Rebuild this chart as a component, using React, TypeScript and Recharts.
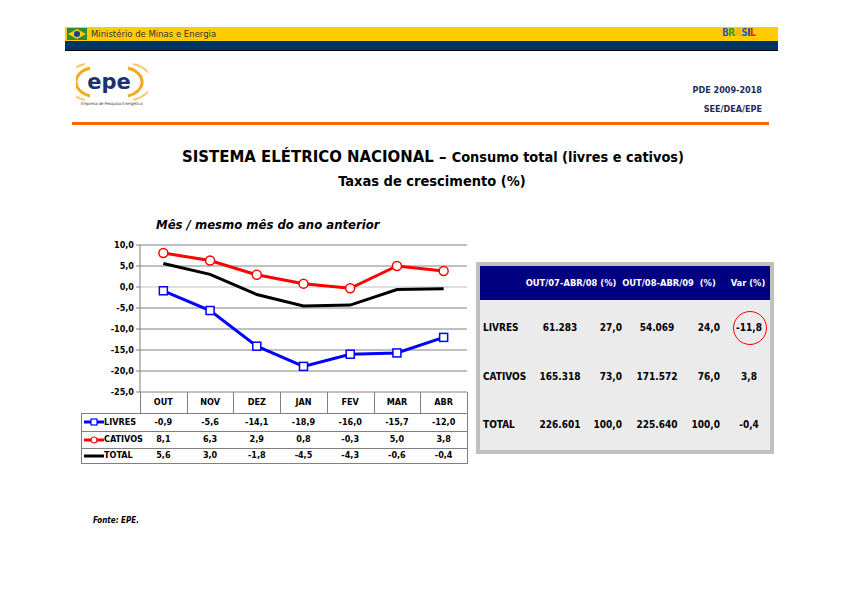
import React from 'react';
import { LineChart, Line, XAxis, YAxis, ReferenceLine } from 'recharts';

const months = ['OUT', 'NOV', 'DEZ', 'JAN', 'FEV', 'MAR', 'ABR'];
const livres = [-0.9, -5.6, -14.1, -18.9, -16.0, -15.7, -12.0];
const cativos = [8.1, 6.3, 2.9, 0.8, -0.3, 5.0, 3.8];
const total = [5.6, 3.0, -1.8, -4.5, -4.3, -0.6, -0.4];
const yTicks = [-25, -20, -15, -10, -5, 0, 5, 10];

const tableHeads = ['OUT/07-ABR/08 (%)', 'OUT/08-ABR/09  (%)', 'Var (%)'];
const tableRows = ['LIVRES', 'CATIVOS', 'TOTAL'];
const volume0708 = ['61.283', '165.318', '226.601'];
const share0708 = ['27,0', '73,0', '100,0'];
const volume0809 = ['54.069', '171.572', '225.640'];
const share0809 = ['24,0', '76,0', '100,0'];
const variation = ['-11,8', '3,8', '-0,4'];

const FONT = '"DejaVu Sans Condensed", "DejaVu Sans", sans-serif';
const fmt = (v: number) => v.toFixed(1).replace('.', ',');

const chartData = months.map((m, i) => ({
  month: m,
  livres: livres[i],
  cativos: cativos[i],
  total: total[i],
}));

// plot box on the page
const PLOT_L = 140;
const PLOT_R = 467;
const COL_W = (PLOT_R - PLOT_L) / months.length;
const ROW_Y = [413, 431, 448, 463];

const SquareDot = (props: any) => {
  const { cx, cy, index } = props;
  if (cx == null || cy == null) return <g key={`s${index}`} />;
  return (
    <rect key={`s${index}`} x={cx - 4} y={cy - 4} width={8} height={8} fill="#fff" stroke="#0000ff" strokeWidth={1.5} />
  );
};

const CircleDot = (props: any) => {
  const { cx, cy, index } = props;
  if (cx == null || cy == null) return <g key={`c${index}`} />;
  return <circle key={`c${index}`} cx={cx} cy={cy} r={4.5} fill="#fff" stroke="#ff0000" strokeWidth={1.5} />;
};

const abs = (s: React.CSSProperties): React.CSSProperties => ({ position: 'absolute', ...s });

function LegendKey({ color, marker }: { color: string; marker: 'square' | 'circle' | 'none' }) {
  return (
    <svg width={22} height={10} style={{ display: 'block' }}>
      <line x1={1} y1={5} x2={21} y2={5} stroke={color} strokeWidth={3} />
      {marker === 'square' && <rect x={8} y={2} width={6} height={6} fill="#fff" stroke={color} strokeWidth={1.2} />}
      {marker === 'circle' && <circle cx={11} cy={5} r={3} fill="#fff" stroke={color} strokeWidth={1.2} />}
    </svg>
  );
}

function DataTable() {
  const series = [
    { name: 'LIVRES', values: livres, color: '#0000ff', marker: 'square' as const },
    { name: 'CATIVOS', values: cativos, color: '#ff0000', marker: 'circle' as const },
    { name: 'TOTAL', values: total, color: '#000', marker: 'none' as const },
  ];
  const line = '#808080';
  return (
    <>
      {/* header row verticals */}
      {months.map((_, i) => (
        <div key={`v${i}`} style={abs({ left: PLOT_L + i * COL_W, top: 392, width: 1, height: 21, background: line })} />
      ))}
      <div style={abs({ left: PLOT_R, top: 392, width: 1, height: 71, background: line })} />
      <div style={abs({ left: 81, top: 413, width: 1, height: 50, background: line })} />
      {ROW_Y.map((y) => (
        <div key={`h${y}`} style={abs({ left: 81, top: y, width: PLOT_R - 81 + 1, height: 1, background: line })} />
      ))}
      {series.map((s, r) => {
        const top = ROW_Y[r];
        const h = ROW_Y[r + 1] - top;
        return (
          <React.Fragment key={s.name}>
            <div style={abs({ left: 83, top: top + h / 2 - 5 })}>
              <LegendKey color={s.color} marker={s.marker} />
            </div>
            <div style={abs({ left: 104, top, height: h, lineHeight: `${h}px`, fontSize: 9, fontWeight: 'bold' })}>{s.name}</div>
            {s.values.map((v, i) => (
              <div
                key={i}
                style={abs({
                  left: PLOT_L + i * COL_W,
                  width: COL_W,
                  top,
                  height: h,
                  lineHeight: `${h}px`,
                  textAlign: 'center',
                  fontSize: 9,
                  fontWeight: 'bold',
                })}
              >
                {fmt(v)}
              </div>
            ))}
          </React.Fragment>
        );
      })}
    </>
  );
}

function SummaryTable() {
  const rowY = [328, 377, 425];
  const cols: { vals: string[]; x: number; align: 'center' | 'right' }[] = [
    { vals: volume0708, x: 560, align: 'center' },
    { vals: share0708, x: 622, align: 'right' },
    { vals: volume0809, x: 657, align: 'center' },
    { vals: share0809, x: 720, align: 'right' },
    { vals: variation, x: 749, align: 'center' },
  ];
  const headX = [571, 669, 748];
  const cell = (x: number, y: number, align: 'center' | 'right', text: string, color = '#000', key?: string, size = 10) => (
    <div
      key={key}
      style={abs({
        left: align === 'center' ? x - 50 : x - 100,
        width: 100,
        top: y - 7,
        height: 14,
        lineHeight: '14px',
        textAlign: align,
        fontSize: size,
        fontWeight: 'bold',
        color,
        whiteSpace: 'pre',
      })}
    >
      {text}
    </div>
  );
  return (
    <>
      <div style={abs({ left: 476, top: 262, width: 298, height: 192, background: '#c0c0c0' })} />
      <div style={abs({ left: 480, top: 266, width: 290, height: 184, background: '#ebebeb' })} />
      <div style={abs({ left: 480, top: 266, width: 290, height: 34, background: '#000080' })} />
      {tableHeads.map((h, i) => cell(headX[i], 283, 'center', h, '#fff', `hd${i}`, 9.3))}
      {tableRows.map((r, i) => (
        <div key={r} style={abs({ left: 483, top: rowY[i] - 7, height: 14, lineHeight: '14px', fontSize: 10, fontWeight: 'bold' })}>
          {r}
        </div>
      ))}
      {cols.map((c, ci) => c.vals.map((v, ri) => cell(c.x, rowY[ri], c.align, v, '#000', `c${ci}-${ri}`)))}
      <div style={abs({ left: 733, top: 311, width: 34, height: 34, border: '1px solid #ff0000', borderRadius: '50%', boxSizing: 'border-box' })} />
    </>
  );
}

function Header() {
  return (
    <>
      <div style={abs({ left: 65, top: 27, width: 713, height: 14, background: '#ffcc00' })} />
      <div style={abs({ left: 65, top: 41, width: 713, height: 9, background: '#003366' })} />
      <div style={abs({ left: 65, top: 50, width: 713, height: 1, background: '#000' })} />
      <svg style={abs({ left: 67, top: 28 })} width={20} height={12}>
        <rect x={0} y={0} width={20} height={12} fill="#2e8b3a" />
        <polygon points="10,1 19,6 10,11 1,6" fill="#f5d000" />
        <circle cx={10} cy={6} r={3} fill="#1d3d8f" />
      </svg>
      <div style={abs({ left: 91, top: 28, fontSize: 8.5, lineHeight: '12px', color: '#333', fontFamily: '"DejaVu Sans", sans-serif' })}>
        Ministério de Minas e Energia
      </div>
      <div style={abs({ left: 722, top: 27, fontSize: 10, lineHeight: '12px', fontWeight: 'bold', letterSpacing: -0.5 })}>
        <span style={{ color: '#1d5fbf' }}>B</span>
        <span style={{ color: '#2e9e3a' }}>R</span>
        <span style={{ color: '#f0b400' }}>A</span>
        <span style={{ color: '#1d5fbf' }}>S</span>
        <span style={{ color: '#1d3d8f' }}>I</span>
        <span style={{ color: '#e0202a' }}>L</span>
      </div>
      {/* epe logo */}
      <svg style={abs({ left: 76, top: 62 })} width={72} height={46}>
        <path d="M14 34 A22 15 0 0 1 14 6" fill="none" stroke="#f7a823" strokeWidth={3} />
        <path d="M9 38 A28 19 0 0 1 9 2" fill="none" stroke="#fbc870" strokeWidth={2} />
        <path d="M52 6 A22 15 0 0 1 52 34" fill="none" stroke="#f7a823" strokeWidth={3} />
        <path d="M57 2 A28 19 0 0 1 57 38" fill="none" stroke="#fbc870" strokeWidth={2} />
        <text x={33} y={27} textAnchor="middle" fontSize={21} fontWeight="bold" fill="#1d2f6f" fontFamily="DejaVu Sans">
          epe
        </text>
        <text x={5} y={43} fontSize={4.2} fill="#333" fontFamily="DejaVu Sans Condensed, DejaVu Sans">
          Empresa de Pesquisa Energética
        </text>
      </svg>
      <div style={abs({ left: 600, width: 162, top: 85, textAlign: 'right', fontSize: 9, fontWeight: 'bold', color: '#1f2a5a' })}>
        PDE 2009-2018
      </div>
      <div style={abs({ left: 600, width: 162, top: 104, textAlign: 'right', fontSize: 9, fontWeight: 'bold', color: '#1f2a5a' })}>
        SEE/DEA/EPE
      </div>
      <div style={abs({ left: 72, top: 122, width: 697, height: 3, background: '#ff6600' })} />
    </>
  );
}

export default function App() {
  return (
    <div style={abs({ left: 0, top: 0, width: 842, height: 595, background: '#fff', fontFamily: FONT, color: '#000', overflow: 'hidden' })}>
      <Header />
      <div style={abs({ left: 0, width: 866, top: 147, textAlign: 'center', fontWeight: 'bold', whiteSpace: 'nowrap' })}>
        <span style={{ fontSize: 16.6 }}>SISTEMA ELÉTRICO NACIONAL – </span>
        <span style={{ fontSize: 14.4 }}>Consumo total (livres e cativos)</span>
      </div>
      <div style={abs({ left: 0, width: 864, top: 173, textAlign: 'center', fontWeight: 'bold', fontSize: 14.5 })}>
        Taxas de crescimento (%)
      </div>
      <div style={abs({ left: 156, top: 217, fontWeight: 'bold', fontStyle: 'italic', fontSize: 13 })}>
        Mês / mesmo mês do ano anterior
      </div>

      <div style={abs({ left: 70, top: 235 })}>
        <LineChart width={400} height={200} data={chartData} margin={{ top: 10, right: 3, bottom: 21, left: 20 }}>
          <XAxis
            dataKey="month"
            padding={{ left: COL_W / 2, right: COL_W / 2 }}
            axisLine={false}
            tickLine={false}
            tickSize={0}
            tickMargin={7}
            interval={0}
            tick={{ fontSize: 9, fontWeight: 'bold', fill: '#000', fontFamily: FONT }}
            height={22}
          />
          <YAxis
            domain={[-25, 10]}
            ticks={yTicks}
            interval={0}
            width={50}
            tickFormatter={fmt}
            stroke="#808080"
            tickSize={4}
            tickMargin={2}
            tick={{ fontSize: 9, fontWeight: 'bold', fill: '#000', fontFamily: FONT }}
          />
          {yTicks.map((t) => (
            <ReferenceLine key={t} y={t} stroke={t === 0 ? '#c0c0c0' : '#808080'} strokeWidth={1} ifOverflow="visible" />
          ))}
          <Line type="linear" dataKey="total" stroke="#000" strokeWidth={3} dot={false} isAnimationActive={false} />
          <Line type="linear" dataKey="cativos" stroke="#ff0000" strokeWidth={3} dot={CircleDot} isAnimationActive={false} />
          <Line type="linear" dataKey="livres" stroke="#0000ff" strokeWidth={3} dot={SquareDot} isAnimationActive={false} />
        </LineChart>
      </div>

      <DataTable />
      <SummaryTable />

      <div style={abs({ left: 93, top: 516, fontSize: 8, fontWeight: 'bold', fontStyle: 'italic' })}>Fonte: EPE.</div>
    </div>
  );
}
